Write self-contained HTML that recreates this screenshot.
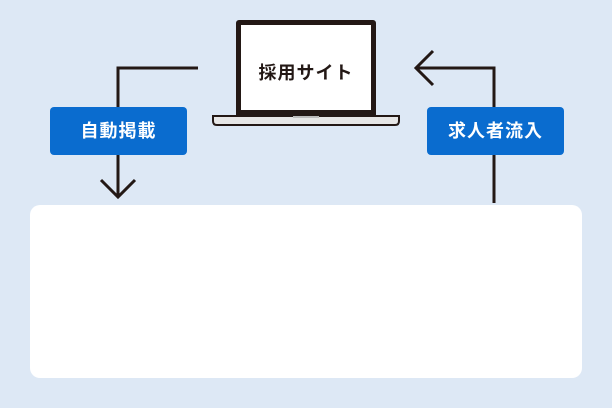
<!DOCTYPE html>
<html><head><meta charset="utf-8"><style>
html,body{margin:0;padding:0}
body{width:612px;height:408px;background:#dde8f5;position:relative;overflow:hidden;font-family:"Liberation Sans","Noto Sans CJK JP",sans-serif}
.panel{position:absolute;left:30px;top:205px;width:552px;height:173px;background:#fff;border-radius:10px}
.lbl{position:absolute;top:107px;height:48px;background:#0a6ccf;color:#fff;border-radius:4px;font-weight:bold;font-size:18px;line-height:48px;text-align:center;letter-spacing:1px}
.scr{position:absolute;left:236px;top:20px;width:130px;height:85px;border:5px solid #231815;border-radius:3px 3px 0 0;background:#fff;font-size:18px;font-weight:bold;color:#231815;text-align:center;line-height:97px;letter-spacing:1px}
</style></head><body>
<svg width="612" height="408" style="position:absolute;left:0;top:0">
<g fill="none" stroke="#231815" stroke-width="3">
<polyline points="198,68 118,68 118,197"/>
<polyline points="101,180 118,197 135,180"/>
<polyline points="494,203 494,68 416,68"/>
<polyline points="433,51 416,68 433,85"/>
</g>
<path d="M213,116 H399 V121 Q399,125 395,125 H217 Q213,125 213,121 Z" fill="#e6e6e6" stroke="#231815" stroke-width="2"/>
<rect x="293" y="116" width="26" height="2" fill="#bbb"/>
</svg>
<div class="scr">採用サイト</div>
<div class="lbl" style="left:50px;width:137px">自動掲載</div>
<div class="lbl" style="left:427px;width:137px">求人者流入</div>
<div class="panel"></div>
</body></html>
